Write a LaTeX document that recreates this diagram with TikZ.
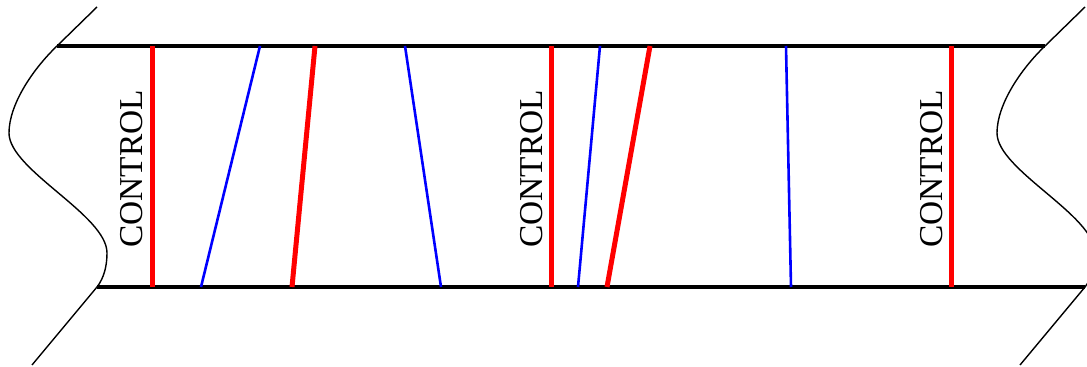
\documentclass[tikz,border=0pt]{standalone}
\usepackage{fontspec}
\setmainfont{Liberation Serif}
\usepackage{xcolor}
\usetikzlibrary{calc,positioning}

\begin{document}
\begin{tikzpicture}[x=0.5pt,y=-0.5pt,line join=round,
    rail/.style={draw,line width=2pt},
    cut/.style={draw,red,line width=2.5pt},
    probe/.style={draw,blue,line width=1.3pt},
    wave/.style={draw,line width=0.7pt},
    ctrl/.style={rotate=90,inner sep=0pt,font=\fontsize{16.7}{20}\selectfont}]
    \useasboundingbox (0,0) rectangle (1087,367);

    % rails
    \coordinate (tl) at (57,46);
    \coordinate (tr) at (1045,46);
    \coordinate (bl) at (97,287);
    \coordinate (br) at (1085,287);
    \path[rail] (tl) -- (tr);
    \path[rail] (bl) -- (br);

    % broken ends
    \path[wave] (97,7) -- (57,46) .. controls (32,70) and (9,105) .. (9,133)
        .. controls (9,170) and (107,215) .. (107,253)
        .. controls (107,266) and (104,278) .. (97,287) -- (32,365);
    \path[wave,shift={(988,0)}] (97,7) -- (57,46) .. controls (32,70) and (9,105) .. (9,133)
        .. controls (9,170) and (107,215) .. (107,253)
        .. controls (107,266) and (104,278) .. (97,287) -- (32,365);

    % control sections
    \coordinate (c1t) at (152,46);  \coordinate (c1b) at (152,287);
    \coordinate (c2t) at (551,46);  \coordinate (c2b) at (551,287);
    \coordinate (c3t) at (951,46);  \coordinate (c3b) at (951,287);
    \path[cut] (c1t) -- (c1b);
    \path[cut] (c2t) -- (c2b);
    \path[cut] (c3t) -- (c3b);
    \node[ctrl] (ctrl1) at (132,169) {CONTROL};
    \node[ctrl] (ctrl2) at (532,169) {CONTROL};
    \node[ctrl] (ctrl3) at (932,169) {CONTROL};

    % slanted cuts
    \coordinate (r1t) at (315,46);  \coordinate (r1b) at (292,287);
    \coordinate (r2t) at (650,46);  \coordinate (r2b) at (607,287);
    \path[cut] (r1t) -- (r1b);
    \path[cut] (r2t) -- (r2b);

    % blue lines
    \coordinate (p1t) at (260,46);  \coordinate (p1b) at (201,287);
    \coordinate (p2t) at (405,46);  \coordinate (p2b) at (441,287);
    \coordinate (p3t) at (600,46);  \coordinate (p3b) at (578,287);
    \coordinate (p4t) at (786,46);  \coordinate (p4b) at (791,287);
    \path[probe] (p1t) -- (p1b);
    \path[probe] (p2t) -- (p2b);
    \path[probe] (p3t) -- (p3b);
    \path[probe] (p4t) -- (p4b);

\end{tikzpicture}
\end{document}
